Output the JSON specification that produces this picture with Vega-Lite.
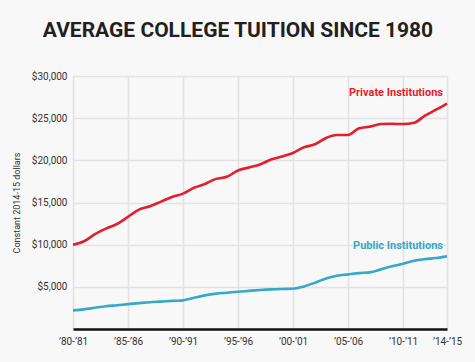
{
  "$schema": "https://vega.github.io/schema/vega-lite/v6.json",
  "autosize": "none",
  "width": 374,
  "height": 253,
  "padding": {"left": 73, "top": 76, "right": 28, "bottom": 33},
  "background": "#f8f8f8",
  "title": {
    "text": "AVERAGE COLLEGE TUITION SINCE 1980",
    "font": "Roboto",
    "fontSize": 21,
    "fontWeight": "bold",
    "color": "#231f20",
    "anchor": "middle",
    "dx": -22,
    "offset": 30
  },
  "config": {
    "view": {"stroke": null},
    "font": "Roboto"
  },
  "data": {
    "values": [
      {"year": 1980, "series": "Private Institutions", "tuition": 10000},
      {"year": 1981, "series": "Private Institutions", "tuition": 10400},
      {"year": 1982, "series": "Private Institutions", "tuition": 11250},
      {"year": 1983, "series": "Private Institutions", "tuition": 11900},
      {"year": 1984, "series": "Private Institutions", "tuition": 12450},
      {"year": 1985, "series": "Private Institutions", "tuition": 13300},
      {"year": 1986, "series": "Private Institutions", "tuition": 14150},
      {"year": 1987, "series": "Private Institutions", "tuition": 14550},
      {"year": 1988, "series": "Private Institutions", "tuition": 15100},
      {"year": 1989, "series": "Private Institutions", "tuition": 15650},
      {"year": 1990, "series": "Private Institutions", "tuition": 16050},
      {"year": 1991, "series": "Private Institutions", "tuition": 16750},
      {"year": 1992, "series": "Private Institutions", "tuition": 17200},
      {"year": 1993, "series": "Private Institutions", "tuition": 17800},
      {"year": 1994, "series": "Private Institutions", "tuition": 18050},
      {"year": 1995, "series": "Private Institutions", "tuition": 18800},
      {"year": 1996, "series": "Private Institutions", "tuition": 19150},
      {"year": 1997, "series": "Private Institutions", "tuition": 19500},
      {"year": 1998, "series": "Private Institutions", "tuition": 20100},
      {"year": 1999, "series": "Private Institutions", "tuition": 20450},
      {"year": 2000, "series": "Private Institutions", "tuition": 20870},
      {"year": 2001, "series": "Private Institutions", "tuition": 21550},
      {"year": 2002, "series": "Private Institutions", "tuition": 21900},
      {"year": 2003, "series": "Private Institutions", "tuition": 22650},
      {"year": 2004, "series": "Private Institutions", "tuition": 23000},
      {"year": 2005, "series": "Private Institutions", "tuition": 23000},
      {"year": 2006, "series": "Private Institutions", "tuition": 23800},
      {"year": 2007, "series": "Private Institutions", "tuition": 24000},
      {"year": 2008, "series": "Private Institutions", "tuition": 24300},
      {"year": 2009, "series": "Private Institutions", "tuition": 24330},
      {"year": 2010, "series": "Private Institutions", "tuition": 24300},
      {"year": 2011, "series": "Private Institutions", "tuition": 24450},
      {"year": 2012, "series": "Private Institutions", "tuition": 25300},
      {"year": 2013, "series": "Private Institutions", "tuition": 26000},
      {"year": 2014, "series": "Private Institutions", "tuition": 26740},
      {"year": 1980, "series": "Public Institutions", "tuition": 2210},
      {"year": 1981, "series": "Public Institutions", "tuition": 2330},
      {"year": 1982, "series": "Public Institutions", "tuition": 2520},
      {"year": 1983, "series": "Public Institutions", "tuition": 2700},
      {"year": 1984, "series": "Public Institutions", "tuition": 2820},
      {"year": 1985, "series": "Public Institutions", "tuition": 2950},
      {"year": 1986, "series": "Public Institutions", "tuition": 3070},
      {"year": 1987, "series": "Public Institutions", "tuition": 3180},
      {"year": 1988, "series": "Public Institutions", "tuition": 3250},
      {"year": 1989, "series": "Public Institutions", "tuition": 3330},
      {"year": 1990, "series": "Public Institutions", "tuition": 3390},
      {"year": 1991, "series": "Public Institutions", "tuition": 3700},
      {"year": 1992, "series": "Public Institutions", "tuition": 3990},
      {"year": 1993, "series": "Public Institutions", "tuition": 4190},
      {"year": 1994, "series": "Public Institutions", "tuition": 4300},
      {"year": 1995, "series": "Public Institutions", "tuition": 4420},
      {"year": 1996, "series": "Public Institutions", "tuition": 4520},
      {"year": 1997, "series": "Public Institutions", "tuition": 4620},
      {"year": 1998, "series": "Public Institutions", "tuition": 4700},
      {"year": 1999, "series": "Public Institutions", "tuition": 4750},
      {"year": 2000, "series": "Public Institutions", "tuition": 4780},
      {"year": 2001, "series": "Public Institutions", "tuition": 5050},
      {"year": 2002, "series": "Public Institutions", "tuition": 5490},
      {"year": 2003, "series": "Public Institutions", "tuition": 6000},
      {"year": 2004, "series": "Public Institutions", "tuition": 6320},
      {"year": 2005, "series": "Public Institutions", "tuition": 6480},
      {"year": 2006, "series": "Public Institutions", "tuition": 6630},
      {"year": 2007, "series": "Public Institutions", "tuition": 6710},
      {"year": 2008, "series": "Public Institutions", "tuition": 7070},
      {"year": 2009, "series": "Public Institutions", "tuition": 7430},
      {"year": 2010, "series": "Public Institutions", "tuition": 7750},
      {"year": 2011, "series": "Public Institutions", "tuition": 8100},
      {"year": 2012, "series": "Public Institutions", "tuition": 8290},
      {"year": 2013, "series": "Public Institutions", "tuition": 8410},
      {"year": 2014, "series": "Public Institutions", "tuition": 8610}
    ]
  },
  "encoding": {
    "x": {
      "field": "year",
      "type": "quantitative",
      "scale": {"domain": [1980, 2014], "nice": false, "zero": false},
      "axis": {
        "title": null,
        "values": [1980, 1985, 1990, 1995, 2000, 2005, 2010, 2014],
        "labelExpr": "'’' + substring(toString(datum.value), 2, 4) + '-’' + substring(toString(datum.value + 1), 2, 4)",
        "labelFont": "Roboto",
        "labelFontSize": 10,
        "labelColor": "#333333",
        "labelPadding": 7,
        "labelFlush": false,
        "ticks": false,
        "domainColor": "#111111",
        "domainWidth": 2.5,
        "gridColor": "#e2e2e2",
        "gridWidth": 1.5
      }
    },
    "y": {
      "field": "tuition",
      "type": "quantitative",
      "scale": {"domain": [0, 30000], "nice": false},
      "axis": {
        "title": "Constant 2014-15 dollars",
        "titleFont": "Roboto",
        "titleFontSize": 9,
        "titleFontWeight": "normal",
        "titleColor": "#333333",
        "titlePadding": 10,
        "values": [5000, 10000, 15000, 20000, 25000, 30000],
        "format": "$,d",
        "labelFont": "Roboto",
        "labelFontSize": 10,
        "labelColor": "#333333",
        "labelPadding": 6,
        "ticks": false,
        "domain": false,
        "gridColor": "#e2e2e2",
        "gridWidth": 1.5
      }
    },
    "color": {
      "field": "series",
      "type": "nominal",
      "scale": {"domain": ["Private Institutions", "Public Institutions"], "range": ["#e31e2d", "#37a8c8"]},
      "legend": null
    }
  },
  "layer": [
    {
      "mark": {"type": "line", "strokeWidth": 2.6, "interpolate": "monotone"}
    },
    {
      "transform": [{"filter": "datum.year == 2014"}],
      "mark": {"type": "text", "align": "right", "baseline": "middle", "dx": -4, "dy": -10, "font": "Roboto", "fontSize": 11, "fontWeight": "bold"},
      "encoding": {"text": {"field": "series"}}
    }
  ]
}
